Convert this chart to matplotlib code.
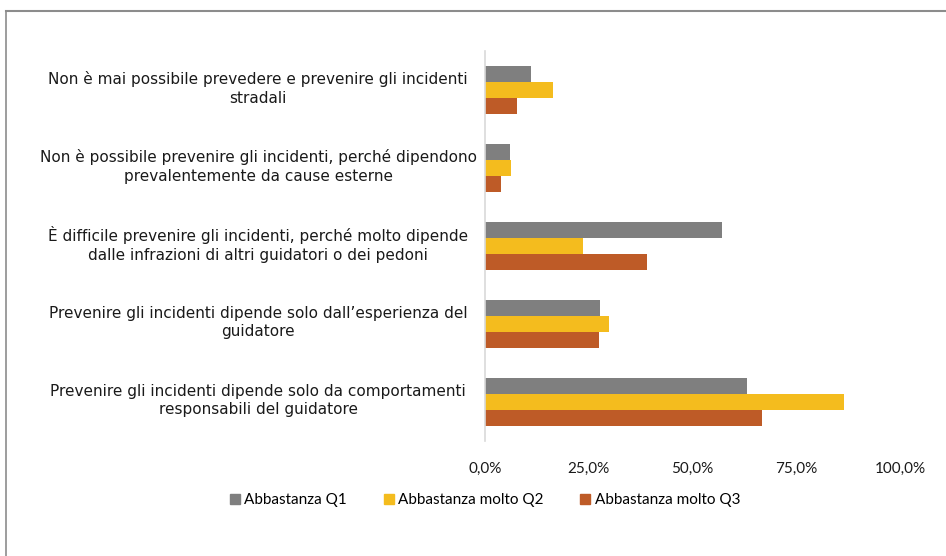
import matplotlib.pyplot as plt
from matplotlib.lines import Line2D
from matplotlib.patches import Patch
import matplotlib.transforms as mtransforms
import numpy as np

categorie = [
    "Non è mai possibile prevedere e prevenire gli incidenti\nstradali",
    "Non è possibile prevenire gli incidenti, perché dipendono\nprevalentemente da cause esterne",
    "È difficile prevenire gli incidenti, perché molto dipende\ndalle infrazioni di altri guidatori o dei pedoni",
    "Prevenire gli incidenti dipende solo dall’esperienza del\nguidatore",
    "Prevenire gli incidenti dipende solo da comportamenti\nresponsabili del guidatore",
]
serie = ["Abbastanza Q1", "Abbastanza molto Q2", "Abbastanza molto Q3"]
q1 = [11.2, 6.1, 57.2, 27.7, 63.2]
q2 = [16.3, 6.2, 23.5, 29.9, 86.5]
q3 = [7.7, 3.9, 39.1, 27.4, 66.7]
tick_valori = [0, 25, 50, 75, 100]
tick_etichette = ["0,0%", "25,0%", "50,0%", "75,0%", "100,0%"]

colori = ["#7f7f7f", "#f4bc1e", "#be5b27"]

W, H = 946, 556
fig = plt.figure(figsize=(W / 100, H / 100), dpi=100)
ax = fig.add_axes([485 / W, 1 - 441 / H, (900 - 485) / W, (441 - 51) / H])

y = np.arange(len(categorie))
h = 16 / 78
for i, (valori, colore) in enumerate(zip([q1, q2, q3], colori)):
    ax.barh(y + (i - 1) * h, valori, height=h, color=colore, label=serie[i])

ax.set_xlim(0, 100)
ax.set_ylim(len(categorie) - 0.5, -0.5)
ax.set_yticks(y)
ax.set_yticklabels([])
ax.tick_params(axis="y", length=0)

# etichette delle categorie centrate a sinistra dell'asse
trans = mtransforms.blended_transform_factory(ax.transAxes, ax.transData)
for yi, testo in zip(y, categorie):
    ax.text((258 - 485) / 415, yi - 0.02, testo, transform=trans, ha="center", va="center",
            family="DejaVu Sans", fontsize=11, color="#1a1a1a", linespacing=1.3)

ax.set_xticks(tick_valori)
ax.set_xticklabels(tick_etichette, family="Lato", fontsize=11, color="#1a1a1a")
ax.tick_params(axis="x", length=0, pad=15)

for s in ["top", "right", "bottom"]:
    ax.spines[s].set_visible(False)
ax.spines["left"].set_color("#d9d9d9")
ax.spines["left"].set_linewidth(1.2)

# bordo del grafico
fig.add_artist(Line2D([6 / W, 6 / W], [0, 1 - 11 / H], color="#8c8c8c", lw=1.2))
fig.add_artist(Line2D([6 / W, 1], [1 - 11 / H, 1 - 11 / H], color="#8c8c8c", lw=1.5))

maniglie = [Patch(color=c) for c in colori]
fig.legend(maniglie, serie, loc="center", bbox_to_anchor=(485 / W, 1 - 500 / H),
           ncol=3, frameon=False, prop={"family": "Lato", "size": 11},
           handlelength=0.65, handleheight=0.65, handletextpad=0.3, columnspacing=2.4)

fig.savefig("out.png", dpi=100)
